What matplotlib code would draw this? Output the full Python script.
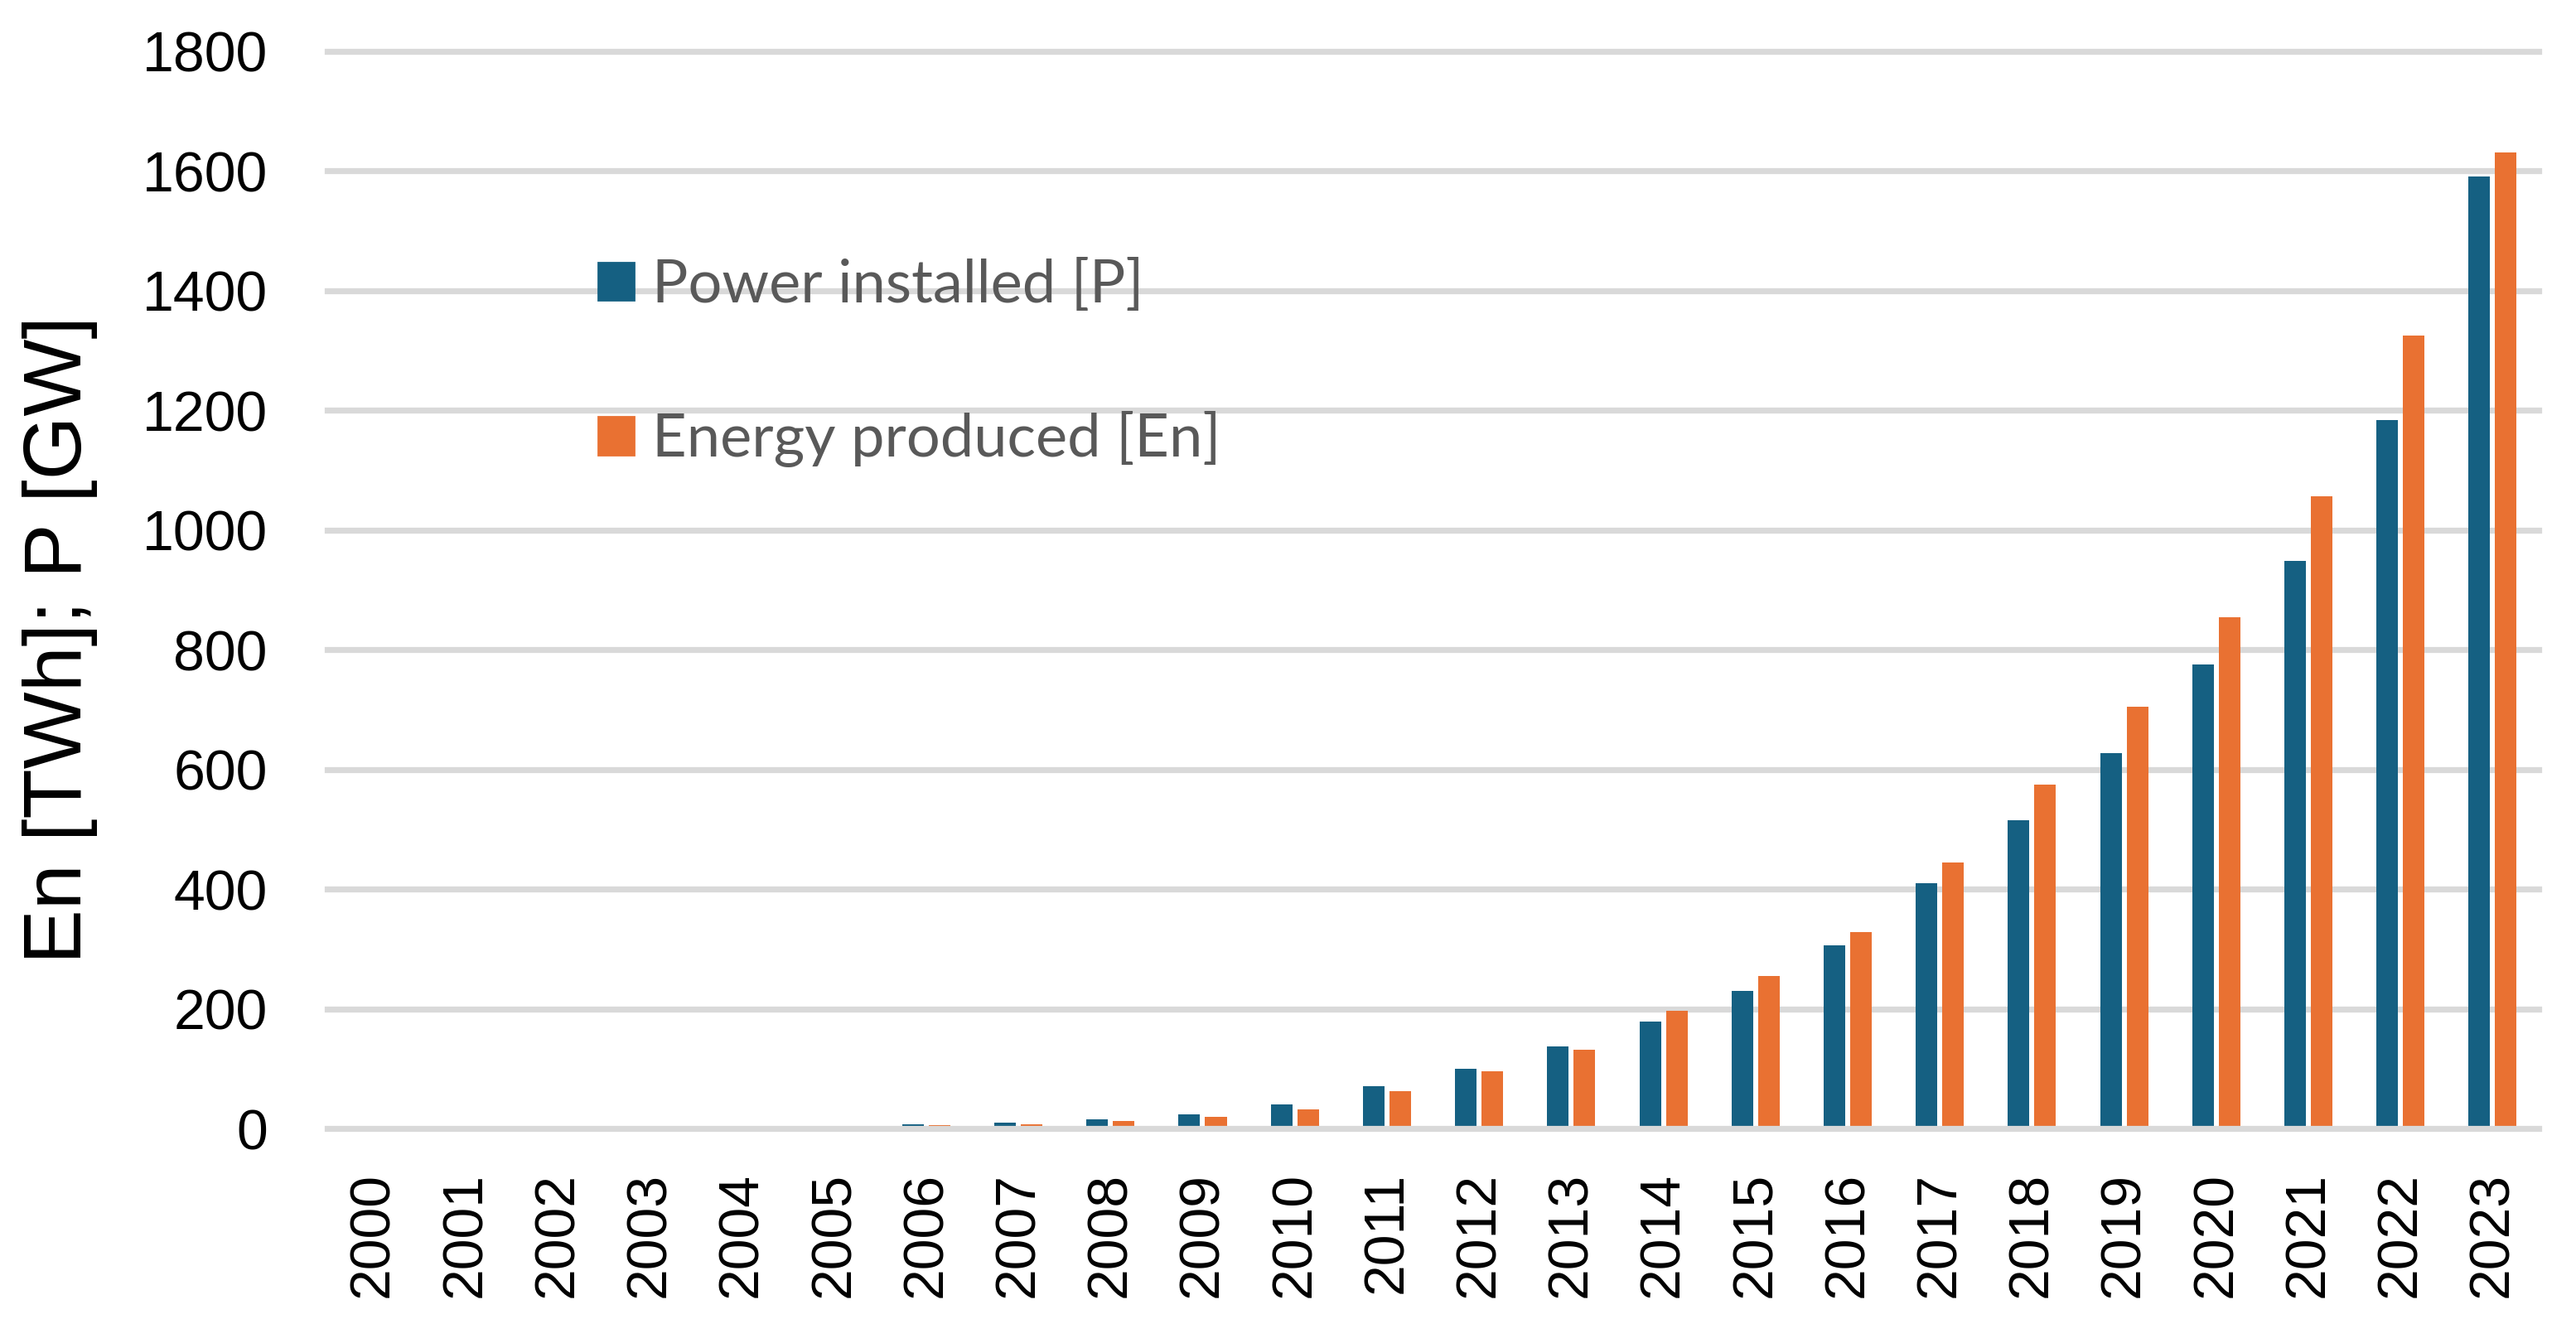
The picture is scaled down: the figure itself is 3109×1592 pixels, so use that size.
import matplotlib
matplotlib.use('Agg')
import matplotlib.pyplot as plt
from matplotlib.patches import Patch
import numpy as np

years = [str(y) for y in range(2000, 2024)]
power = [1.2, 1.6, 2.2, 2.8, 3.6, 4.6, 6.7, 9.4, 15.8, 23, 40, 71, 100, 137,
         179, 230, 306, 410, 515, 627, 775, 948, 1184, 1591]
energy = [1.0, 1.3, 1.6, 2.0, 2.7, 3.6, 5.0, 7.5, 12, 20, 32, 62, 96, 132,
          197, 255, 328, 444, 575, 705, 854, 1056, 1325, 1631]
labels = ['Power installed [P]', 'Energy produced [En]']
yticks = [0, 200, 400, 600, 800, 1000, 1200, 1400, 1600, 1800]

blue = '#156082'
orange = '#E97132'
grid_col = '#D9D9D9'

plt.rcParams['font.family'] = ['Liberation Sans', 'DejaVu Sans']

fig = plt.figure(figsize=(3109 / 200, 1592 / 200), dpi=200)
ax = fig.add_axes([0.12705, 0.14447, 0.98553 - 0.12705, 0.96106 - 0.14447])

x = np.arange(len(years))
w = 0.234
off = 0.144
ax.bar(x - off, power, w, color=blue, zorder=2)
ax.bar(x + off, energy, w, color=orange, zorder=2)

ax.set_xlim(-0.5, len(years) - 0.5)
ax.set_ylim(0, 1800)
ax.set_yticks(yticks)
ax.set_yticklabels([str(v) for v in yticks])
ax.set_xticks(x)
ax.set_xticklabels(years, rotation=90)
ax.tick_params(axis='y', length=0, pad=26, labelsize=24.5)
ax.tick_params(axis='x', length=0, pad=19, labelsize=24.5)

# gridlines behind, zero line on top of the bars
for v in yticks[1:]:
    ax.axhline(v, color=grid_col, lw=2.6, zorder=1, clip_on=False)
ax.axhline(0, color=grid_col, lw=2.6, zorder=3, clip_on=False)

for s in ax.spines.values():
    s.set_visible(False)

fig.text(0.0234, 1 - 772 / 1592, 'En [TWh]; P [GW]', rotation=90,
         fontsize=35.5, ha='center', va='center')

handles = [Patch(color=blue), Patch(color=orange)]
leg = fig.legend(handles, labels, loc='upper left',
                 bbox_to_anchor=(722 / 3109, 1 - 312 / 1592),
                 frameon=False, handlelength=0.6,
                 handleheight=0.6, handletextpad=0.3, labelspacing=1.65,
                 borderpad=0, borderaxespad=0,
                 prop={'family': ['Lato', 'DejaVu Sans'], 'size': 26})
for t in leg.get_texts():
    t.set_color('#595959')

fig.savefig('out.png', dpi=200)
